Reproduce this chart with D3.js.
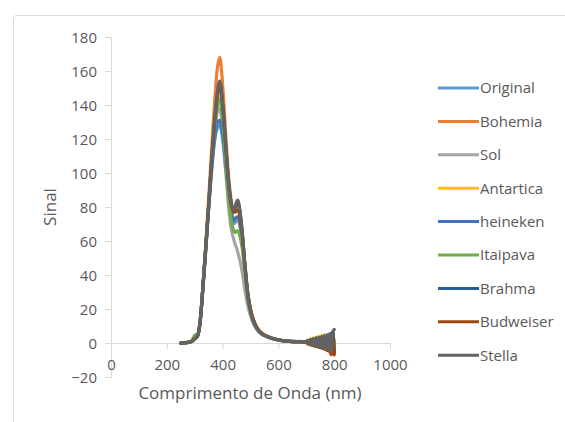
<!DOCTYPE html>
<html>
<head>
<meta charset="utf-8">
<script src="https://cdn.jsdelivr.net/npm/d3@7"></script>
<style>
  html, body { margin: 0; padding: 0; background: #fff; }
  svg { display: block; font-family: "Open Sans", "Liberation Sans", sans-serif; }
</style>
</head>
<body>
<svg id="chart" width="565" height="422"></svg>
<script>
// Wavelengths (nm) shared by every sample
const wavelength = [250,260,270,280,290,300,310,320,330,340,350,360,370,380,390,400,410,420,430,440,
  445,450,455,460,470,480,490,500,510,520,530,540,550,560,580,600,620,640,660,680,700,
  705,710,715,720,725,730,735,740,745,750,755,760,765,770,775,780,785,790,795,800];

const seriesNames = ["Original","Bohemia","Sol","Antartica","heineken","Itaipava","Brahma","Budweiser","Stella"];
const seriesColors = ["#5B9BD5","#ED7D31","#A5A5A5","#FFC000","#4472C4","#70AD47","#255E91","#9E480E","#636363"];

// Signal per sample
const original = [0,0,0.2,0.4,1,2.8,4.5,14,34,56,79,100,117,126,128,120,104,88,76,70,
  71,72,72,70,60,44,28,19,13,9.5,7,5.5,4.6,3.8,2.6,1.9,1.4,1.1,0.9,0.8,0.7,
  1,0.2,1.5,0,2,-1,1.5,-1.5,2.5,-2,3,-2.5,3.5,-3,4,-3.5,5,-4,6,-5];
const bohemia = [0,0,0.2,0.5,1,2.5,4,13,35,59,85,112,138,160,168,152,126,101,85,77,
  78,80,80,77,64,45,29,20,14,10,7.5,6,4.8,4,2.7,1.8,1.2,0.9,0.6,0.7,0.4,
  -0.5,1.2,-1,1.5,-1.5,2,-2,2.5,-2.5,3,-3,3.5,-3.5,4,-4.5,4,-5.5,-7,4,-6];
const sol = [0,0,0.2,0.4,0.9,2.4,4,13,33,55,79,103,123,135,138,126,104,83,68,61,
  58,56,53,50,42,31,22,16,11.5,8.5,6.5,5.2,4.3,3.6,2.4,1.7,1.2,0.9,0.7,0.6,0.5,
  1.2,-0.6,1.8,-1.2,2.2,-1.8,2.6,-2.2,3,-2.8,3.4,-3.2,3.8,-3.6,4.2,-4.2,5,-5,5.5,-5];
const antartica = [0,0,0.2,0.5,1,2.6,4.2,13,34,57,81,104,125,140,146,136,114,93,79,73,
  73,74,74,71,61,44,28,19,13,9.5,7.2,5.7,4.7,3.9,2.6,1.8,1.3,1,0.8,0.7,0.6,
  1.8,-0.4,2.4,-0.8,3,-1.2,3.5,-1.5,4,-1.8,4.5,2,5,-2.5,4.5,-3,5.5,-4,6,-4.5];
const heineken = [0,0,0.2,0.4,1,2.7,4.3,14,34,56,80,101,119,129,131,123,107,90,78,72,
  73,74,74,72,61,44,28,19,13,9.5,7.1,5.6,4.6,3.8,2.6,1.8,1.3,1,0.9,0.8,0.6,
  0.8,-0.3,1.6,-0.8,2,-1.4,2.4,-1.8,2.8,-2.4,3.2,-2.8,3.6,-3.2,4.2,-3.8,4.6,-4.6,6.5,-5.5];
const itaipava = [0,0,0.3,0.7,1.5,4.5,5,14,34,56,80,104,124,138,143,132,110,88,73,66,
  65,66,66,64,56,42,27,18.5,12.8,9.3,7,5.5,4.5,3.7,2.5,1.8,1.3,1,0.8,0.7,0.5,
  1.4,-0.7,1.9,-1,2.3,-1.6,2.8,-2,3.2,-2.6,3.6,-3,4,-3.4,4.6,-4,5.2,-4.8,5.8,-5.2];
const brahma = [0,0,0.2,0.5,1,2.5,4,13,34,57,81,105,127,144,151,140,118,97,83,78,
  80,82,83,80,66,46,29,19,13,9.5,7,5.5,4.5,3.8,2.6,1.8,1.3,1,0.8,0.8,0.6,
  1.3,-0.6,2.1,-1.1,2.5,-1.7,3,-2.1,3.4,-2.7,3.9,-3.1,4.3,-3.5,4.8,-4.1,5.6,-5.2,6.8,-6];
const budweiser = [0,0,0.2,0.5,1,2.5,4,13,34,57,81,106,128,145,152,141,119,97,82,77,
  77,78,78,76,64,46,30,20,14,10,7.4,5.8,4.7,3.9,2.6,1.8,1.2,0.9,0.7,0.7,0.5,
  -0.4,1.1,-1.2,1.7,-1.6,2.1,-2.1,2.6,-2.6,3.1,-3.1,3.4,-3.8,3.9,-4.4,4.3,-5.2,-6.5,4.5,-7];
const stella = [0,0,0.3,0.5,1,2.5,4,13,34,57,81,106,128,146,154,142,120,98,83,78,
  80,83,84,80,66,46,29,19,13,9.5,7,5.5,4.5,3.8,2.6,1.8,1.3,1,0.8,0.9,0.6,
  1.5,-0.5,2,-1,1.8,-1.5,2.5,-2,3,-2.5,3.5,-3,4,-3.5,4.5,-4,5.5,-5,6,8];

const seriesValues = [original,bohemia,sol,antartica,heineken,itaipava,brahma,budweiser,stella];

const xTicks = [0,200,400,600,800,1000];
const yTicks = [-20,0,20,40,60,80,100,120,140,160,180];

const svg = d3.select("#chart");
const axisColor = "#D9D9D9";
const textColor = "#595959";

// chart area border
svg.append("rect")
  .attr("x", 13.5).attr("y", 15.5)
  .attr("width", 600).attr("height", 450)
  .attr("rx", 3)
  .attr("fill", "#fff")
  .attr("stroke", axisColor);

const x = d3.scaleLinear().domain([0, 1000]).range([111, 390]);
const y = d3.scaleLinear().domain([-20, 180]).range([377, 37]);

// vertical axis
const yAxis = svg.append("g").attr("transform", `translate(${x(0)},0)`)
  .call(d3.axisLeft(y).tickValues(yTicks).tickSize(6).tickPadding(8).tickFormat(d3.format("d")));
yAxis.select(".domain").attr("stroke", axisColor);
yAxis.selectAll(".tick line").attr("stroke", axisColor);
yAxis.selectAll(".tick text")
  .attr("fill", textColor).attr("font-size", 15)
  .attr("font-family", "Open Sans, sans-serif")
  .attr("dy", "0.36em");

// horizontal axis, crossing at zero signal
const xAxis = svg.append("g").attr("transform", `translate(0,${y(0)})`)
  .call(d3.axisBottom(x).tickValues(xTicks).tickSize(6).tickPadding(10).tickFormat(d3.format("d")));
xAxis.select(".domain").attr("stroke", axisColor);
xAxis.selectAll(".tick line").attr("stroke", axisColor);
xAxis.selectAll(".tick text")
  .attr("fill", textColor).attr("font-size", 15)
  .attr("font-family", "Open Sans, sans-serif");

// axis titles
svg.append("text")
  .attr("x", 250).attr("y", 399)
  .attr("text-anchor", "middle")
  .attr("fill", textColor).attr("font-size", 17)
  .text("Comprimento de Onda (nm)");
svg.append("text")
  .attr("transform", "translate(56,207) rotate(-90)")
  .attr("text-anchor", "middle")
  .attr("fill", textColor).attr("font-size", 17)
  .text("Sinal");

// spectra
const line = d3.line()
  .x((d, i) => x(wavelength[i]))
  .y(d => y(d))
  .curve(d3.curveMonotoneX);

svg.append("g").selectAll("path")
  .data(seriesValues)
  .join("path")
  .attr("d", line)
  .attr("fill", "none")
  .attr("stroke", (d, i) => seriesColors[i])
  .attr("stroke-width", 3.2)
  .attr("stroke-linejoin", "round")
  .attr("stroke-linecap", "round");

// legend
const legend = svg.append("g").selectAll("g")
  .data(seriesNames)
  .join("g")
  .attr("transform", (d, i) => `translate(438,${88 + i * 33.4})`);
legend.append("line")
  .attr("x1", 0).attr("x2", 41).attr("y1", 0).attr("y2", 0)
  .attr("stroke", (d, i) => seriesColors[i])
  .attr("stroke-width", 3);
legend.append("text")
  .attr("x", 42).attr("y", 0).attr("dy", "0.36em")
  .attr("fill", textColor).attr("font-size", 15)
  .text(d => d);
</script>
</body>
</html>
